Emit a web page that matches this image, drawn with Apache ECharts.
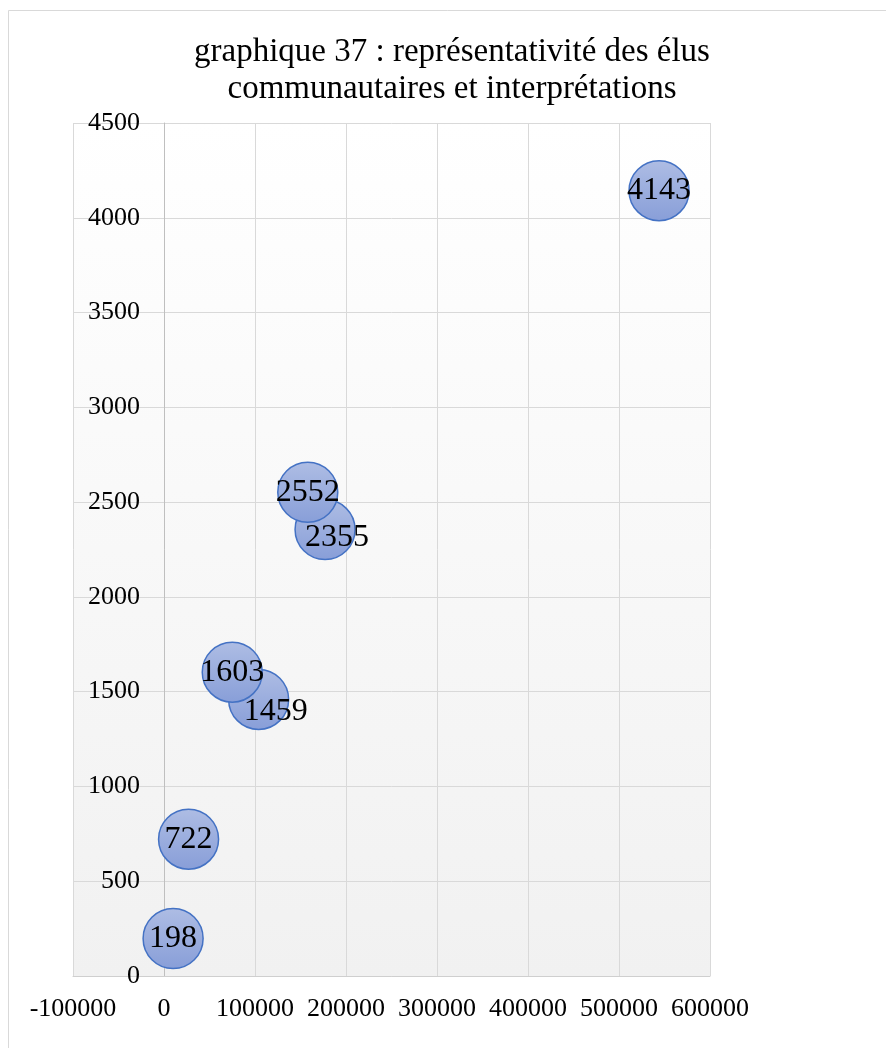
<!DOCTYPE html>
<html>
<head>
<meta charset="utf-8">
<script src="https://cdn.jsdelivr.net/npm/echarts@6/dist/echarts.min.js"></script>
<style>
html,body{margin:0;padding:0;background:#fff;}
#chart{width:886px;height:1048px;}
</style>
</head>
<body>
<div id="chart"></div>
<script>
// Data
const xValues = [10000, 27000, 104000, 75000, 177000, 158000, 544000];
const yValues = [198, 722, 1459, 1603, 2355, 2552, 4143];
const labels = ['198', '722', '1459', '1603', '2355', '2552', '4143'];
const labelOffsets = [[0,0],[0,0],[17,12],[0,0],[12,8],[0,0],[0,0]];
const titleLines = ['graphique 37 : représentativité des élus', 'communautaires et interprétations'];

const FONT = '"Liberation Serif", "Times New Roman", serif';

const data = xValues.map((x, i) => ({
  value: [x, yValues[i]],
  label: { offset: labelOffsets[i] }
}));

const chart = echarts.init(document.getElementById('chart'), null, { renderer: 'canvas' });
chart.setOption({
  animation: false,
  backgroundColor: '#ffffff',
  graphic: [
    { type: 'rect', z: -10, shape: { x: 8.5, y: 10.5, width: 900, height: 1100 },
      style: { fill: 'none', stroke: '#d9d9d9', lineWidth: 1 } },
    { type: 'text', x: 452, y: 34, style: {
        text: titleLines.join('\n'), textAlign: 'center', textVerticalAlign: 'top',
        font: '33px ' + FONT, lineHeight: 37, fill: '#000000' } }
  ],
  grid: {
    left: 73, right: 176, top: 123, bottom: 72,
    containLabel: false, outerBoundsMode: 'none',
    show: true, borderWidth: 0,
    backgroundColor: new echarts.graphic.LinearGradient(0, 0, 0, 1, [
      { offset: 0, color: '#ffffff' }, { offset: 1, color: '#f1f1f1' }
    ])
  },
  xAxis: {
    type: 'value', min: -100000, max: 600000, interval: 100000,
    axisLine: { show: true, onZero: false, lineStyle: { color: '#cfcfcf', width: 1 } },
    axisTick: { show: false },
    axisLabel: { margin: 20, color: '#000', fontFamily: FONT, fontSize: 26, showMinLabel: true, showMaxLabel: true,
      formatter: v => String(v) },
    splitLine: { show: true, lineStyle: { color: '#d9d9d9', width: 1 } }
  },
  yAxis: {
    type: 'value', min: 0, max: 4500, interval: 500,
    offset: -91,
    axisLine: { show: true, onZero: false, lineStyle: { color: '#bfbfbf', width: 1 } },
    axisTick: { show: false },
    axisLabel: { margin: 24, color: '#000', fontFamily: FONT, fontSize: 26, showMinLabel: true, showMaxLabel: true,
      formatter: v => String(v) },
    splitLine: { show: true, lineStyle: { color: '#d9d9d9', width: 1 } }
  },
  series: [{
    type: 'scatter',
    symbol: 'circle',
    symbolSize: 60,
    data: data,
    itemStyle: {
      color: new echarts.graphic.LinearGradient(0, 0, 0, 1, [
        { offset: 0, color: '#aebde4' }, { offset: 1, color: '#889ed8' }
      ]),
      borderColor: '#4472c4', borderWidth: 1.5, opacity: 1
    },
    label: {
      show: true, position: 'inside',
      formatter: p => labels[p.dataIndex],
      color: '#000', fontFamily: FONT, fontSize: 32
    },
    emphasis: { disabled: true }
  }]
});
</script>
</body>
</html>
